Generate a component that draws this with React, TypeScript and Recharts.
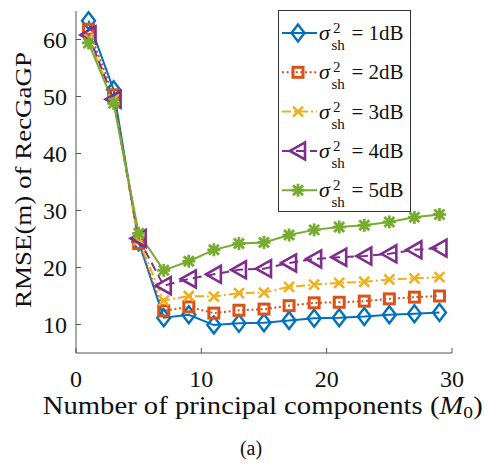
import React from 'react';
import { LineChart, Line, XAxis, YAxis, Legend } from 'recharts';

const xValues = [1, 3, 5, 7, 9, 11, 13, 15, 17, 19, 21, 23, 25, 27, 29];
const s1dB = [63.3, 51.2, 24.5, 11.2, 11.7, 9.9, 10.2, 10.3, 10.7, 11.1, 11.2, 11.4, 11.7, 11.9, 12.1];
const s2dB = [61.8, 50.3, 24.2, 12.4, 13.1, 12.0, 12.5, 12.7, 13.3, 13.8, 13.9, 14.1, 14.5, 14.8, 15.0];
const s3dB = [60.2, 49.5, 24.8, 14.2, 15.0, 14.9, 15.5, 15.6, 16.6, 17.0, 17.3, 17.5, 17.9, 18.1, 18.3];
const s4dB = [60.8, 49.5, 25.1, 16.8, 18.0, 18.8, 19.6, 19.8, 20.8, 21.5, 21.8, 22.0, 22.4, 23.1, 23.4];
const s5dB = [59.4, 48.8, 26.0, 19.5, 21.1, 23.1, 24.2, 24.4, 25.7, 26.6, 27.1, 27.4, 28.0, 28.8, 29.3];
const seriesLabels = ['1dB', '2dB', '3dB', '4dB', '5dB'];
const xTicks = [0, 10, 20, 30];
const yTicks = [10, 20, 30, 40, 50, 60];

const seriesValues = [s1dB, s2dB, s3dB, s4dB, s5dB];
const data = xValues.map((x, i) => {
  const row: Record<string, number> = { x };
  seriesValues.forEach((vals, k) => {
    row['s' + k] = vals[i];
  });
  return row;
});

const styles = [
  { color: '#0072BD', dash: undefined, marker: 'diamond' },
  { color: '#D95319', dash: '2 2.6', marker: 'square' },
  { color: '#EDB120', dash: '9 3 2 3', marker: 'x' },
  { color: '#7E2F8E', dash: '9 5', marker: 'ltri' },
  { color: '#77AC30', dash: undefined, marker: 'star' },
];

const FONT = "'Liberation Serif', 'Times New Roman', serif";
const fontStyle = { fontFamily: FONT };
const AXIS = '#555555';
const TXT = '#111111';
const TICK = 5;

function Marker({ kind, cx, cy, color }: { kind: string; cx: number; cy: number; color: string }) {
  if (kind === 'diamond') {
    return (
      <polygon
        points={`${cx},${cy - 8.5} ${cx + 6.5},${cy} ${cx},${cy + 8.5} ${cx - 6.5},${cy}`}
        fill="none"
        stroke={color}
        strokeWidth={2.4}
      />
    );
  }
  if (kind === 'square') {
    return <rect x={cx - 5} y={cy - 5} width={10} height={10} fill="none" stroke={color} strokeWidth={3} />;
  }
  if (kind === 'x') {
    return (
      <g stroke={color} strokeWidth={2.6}>
        <line x1={cx - 5} y1={cy - 5} x2={cx + 5} y2={cy + 5} />
        <line x1={cx - 5} y1={cy + 5} x2={cx + 5} y2={cy - 5} />
      </g>
    );
  }
  if (kind === 'ltri') {
    return (
      <polygon
        points={`${cx - 8},${cy} ${cx + 7},${cy - 8.5} ${cx + 7},${cy + 8.5}`}
        fill="none"
        stroke={color}
        strokeWidth={2.6}
      />
    );
  }
  return (
    <g stroke={color} strokeWidth={2.8}>
      <line x1={cx - 5} y1={cy - 5} x2={cx + 5} y2={cy + 5} />
      <line x1={cx - 5} y1={cy + 5} x2={cx + 5} y2={cy - 5} />
      <line x1={cx} y1={cy - 6.5} x2={cx} y2={cy + 6.5} />
      <line x1={cx - 6.5} y1={cy} x2={cx + 6.5} y2={cy} />
      <circle cx={cx} cy={cy} r={3.5} fill={color} stroke="none" />
    </g>
  );
}

const BottomTick = (p: any) => {
  const { x, y, payload } = p;
  return (
    <g>
      <line x1={x} x2={x} y1={y} y2={y - TICK} stroke={AXIS} strokeWidth={1} />
      <text x={x} y={y + 34} textAnchor="middle" style={fontStyle} fontSize={24} fill={TXT}>
        {String(payload.value)}
      </text>
    </g>
  );
};
const TopTick = (p: any) => {
  const { x, y } = p;
  return <line x1={x} x2={x} y1={y} y2={y + TICK} stroke={AXIS} strokeWidth={1} />;
};
const LeftTick = (p: any) => {
  const { x, y, payload } = p;
  return (
    <g>
      <line x1={x} x2={x + TICK} y1={y} y2={y} stroke={AXIS} strokeWidth={1} />
      <text x={x - 9} y={y + 8} textAnchor="end" style={fontStyle} fontSize={24} fill={TXT}>
        {String(payload.value)}
      </text>
    </g>
  );
};
const RightTick = (p: any) => {
  const { x, y } = p;
  return <line x1={x} x2={x - TICK} y1={y} y2={y} stroke={AXIS} strokeWidth={1} />;
};

const LegendBox = () => (
  <svg width={134} height={203} style={{ display: 'block', fontFamily: FONT }}>
    <rect x={0.5} y={0.5} width={132} height={201} fill="#fff" stroke="#333" strokeWidth={1} />
    {styles.map((s, i) => {
      const cy = 23 + i * 39.3;
      return (
        <g key={i}>
          <line x1={4} x2={39} y1={cy} y2={cy} stroke={s.color} strokeWidth={2} strokeDasharray={s.dash} />
          <Marker kind={s.marker} cx={20} cy={cy} color={s.color} />
          <text style={fontStyle} fill={TXT}>
            <tspan x={41} y={cy + 7} fontSize={22} fontStyle="italic">σ</tspan>
            <tspan x={55} y={cy} fontSize={15}>2</tspan>
            <tspan x={53.5} y={cy + 17} fontSize={15}>sh</tspan>
            <tspan x={73.5} y={cy + 7} fontSize={21}>{'= ' + seriesLabels[i]}</tspan>
          </text>
        </g>
      );
    })}
  </svg>
);

export default function App() {
  return (
    <div style={{ position: 'absolute', left: 0, top: 0, width: 485, height: 463, background: '#fff', fontFamily: FONT }}>
      <LineChart width={485} height={463} data={data} margin={{ top: 11, right: 33, left: 0, bottom: 0 }} style={fontStyle}>
        <XAxis
          xAxisId="b"
          dataKey="x"
          type="number"
          domain={[0, 30]}
          ticks={xTicks}
          height={110}
          tickSize={0}
          tickMargin={0}
          tickLine={false}
          axisLine={{ stroke: AXIS, strokeWidth: 1 }}
          tick={<BottomTick />}
          interval={0}
        />
        <XAxis
          xAxisId="t"
          orientation="top"
          dataKey="x"
          type="number"
          domain={[0, 30]}
          ticks={xTicks}
          height={0}
          tickSize={0}
          tickMargin={0}
          tickLine={false}
          axisLine={{ stroke: AXIS, strokeWidth: 1 }}
          tick={<TopTick />}
          interval={0}
        />
        <YAxis
          yAxisId="l"
          type="number"
          domain={[5, 65]}
          ticks={yTicks}
          width={76}
          tickSize={0}
          tickMargin={0}
          tickLine={false}
          axisLine={{ stroke: AXIS, strokeWidth: 1 }}
          tick={<LeftTick />}
          interval={0}
        />
        <YAxis
          yAxisId="r"
          orientation="right"
          type="number"
          domain={[5, 65]}
          ticks={yTicks}
          width={0}
          tickSize={0}
          tickMargin={0}
          tickLine={false}
          axisLine={{ stroke: AXIS, strokeWidth: 1 }}
          tick={<RightTick />}
          interval={0}
        />
        {styles.map((s, k) => (
          <Line
            key={k}
            xAxisId="b"
            yAxisId="l"
            dataKey={'s' + k}
            name={seriesLabels[k]}
            stroke={s.color}
            strokeWidth={2}
            strokeDasharray={s.dash}
            isAnimationActive={false}
            dot={(props: any) => (
              <Marker key={`m${k}-${props.index}`} kind={s.marker} cx={props.cx} cy={props.cy} color={s.color} />
            )}
            activeDot={false}
          />
        ))}
        <Legend
          layout="vertical"
          align="center"
          verticalAlign="middle"
          wrapperStyle={{ position: 'absolute', left: 278, top: 10, width: 134, height: 203 }}
          content={() => <LegendBox />}
        />
        <text
          x={31}
          y={180}
          transform="rotate(-90 31 180)"
          textAnchor="middle"
          style={fontStyle}
          fontSize={24}
          fill={TXT}
          textLength={256}
          lengthAdjust="spacingAndGlyphs"
        >
          RMSE(m) of RecGaGP
        </text>
        <text x={42.7} y={414} style={fontStyle} fontSize={25} fill={TXT} textLength={440} lengthAdjust="spacingAndGlyphs">
          Number of principal components (<tspan fontStyle="italic">M</tspan>
          <tspan fontSize={17} dy={4}>0</tspan>
          <tspan dy={-4}>)</tspan>
        </text>
        <text x={251} y={455} textAnchor="middle" style={fontStyle} fontSize={20} fill={TXT}>
          (a)
        </text>
      </LineChart>
    </div>
  );
}
